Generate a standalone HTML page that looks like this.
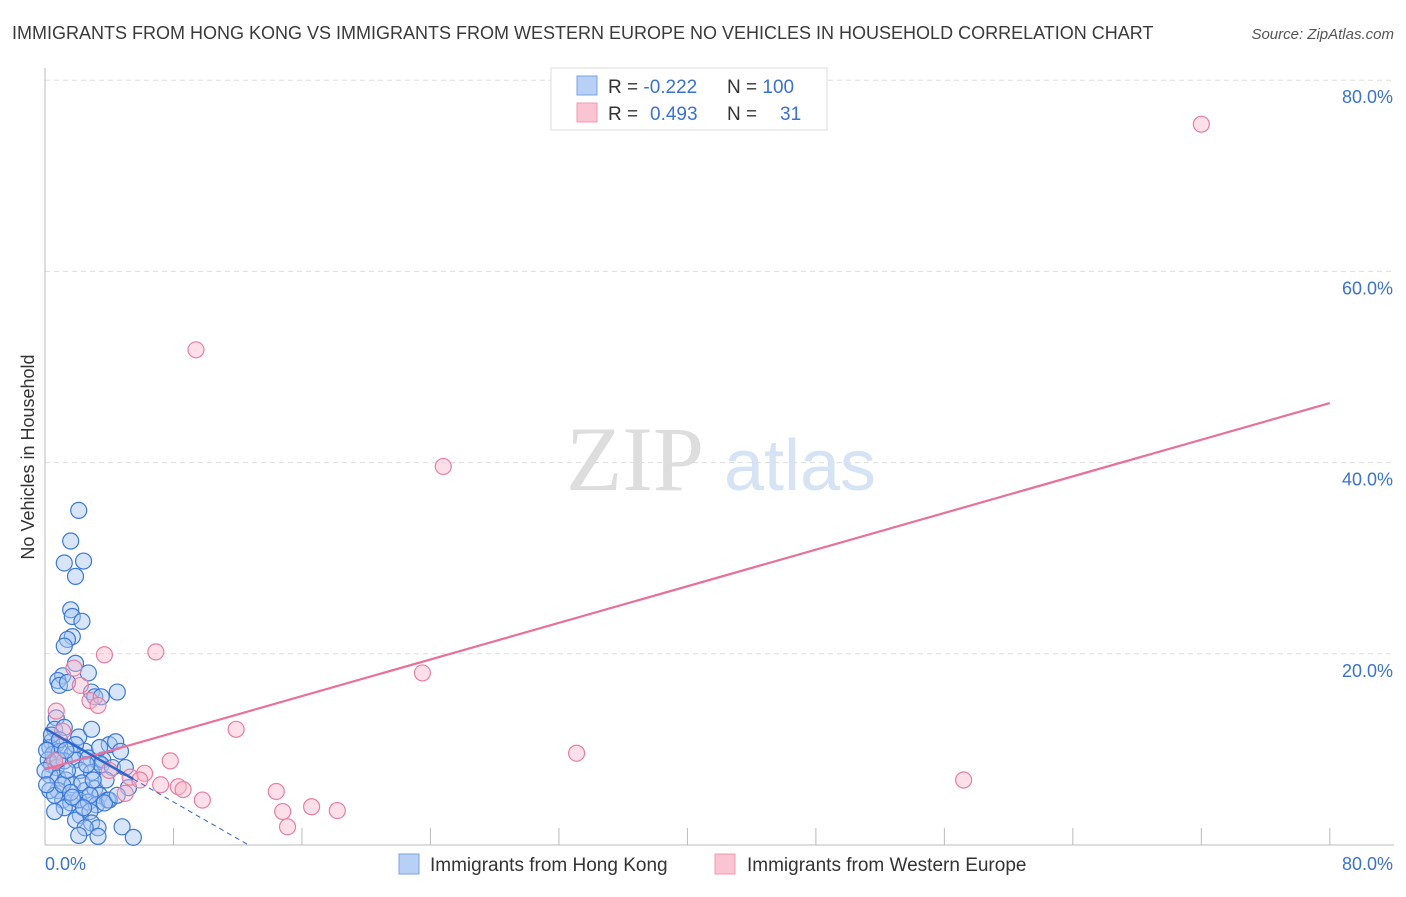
<!DOCTYPE html>
<html><head><meta charset="utf-8"><style>
body{margin:0;background:#fff;font-family:"Liberation Sans",sans-serif;}
</style></head><body>
<svg width="1406" height="892" xmlns="http://www.w3.org/2000/svg" font-family="Liberation Sans, sans-serif">
<text x="12" y="39" font-size="18" fill="#3a3a3a">IMMIGRANTS FROM HONG KONG VS IMMIGRANTS FROM WESTERN EUROPE NO VEHICLES IN HOUSEHOLD CORRELATION CHART</text>
<text x="1394" y="39" font-size="15" fill="#555" font-style="italic" text-anchor="end">Source: ZipAtlas.com</text>
<g id="grid"></g>
<g><text x="635" y="490" font-size="92" fill="#ddd" font-family="Liberation Serif, serif" text-anchor="middle">ZIP</text><text x="800" y="490" font-size="72" fill="#d5e3f5" text-anchor="middle">atlas</text></g>
<g id="pts"></g>
<g id="lines"></g>
<text transform="translate(34,457) rotate(-90)" font-size="18" fill="#333" text-anchor="middle">No Vehicles in Household</text>
<text x="45" y="870" font-size="18" fill="#3a72d0">0.0%</text>
<text x="1393" y="870" font-size="18" fill="#3a72d0" text-anchor="end">80.0%</text>
<g>
<rect x="551" y="68" width="276" height="62" fill="#fff" stroke="#ddd"/>
<rect x="577" y="76" width="20" height="19" fill="#b8d0f5" stroke="#7aa3e5"/>
<rect x="577" y="103" width="20" height="19" fill="#fac4d3" stroke="#f09ab2"/>
<text x="608" y="93" font-size="19" fill="#333">R = <tspan fill="#3a72d0">-0.222</tspan></text>
<text x="727" y="93" font-size="19" fill="#333">N = <tspan fill="#3a72d0">100</tspan></text>
<text x="608" y="120" font-size="19" fill="#333">R = <tspan fill="#3a72d0" x="650">0.493</tspan></text>
<text x="727" y="120" font-size="19" fill="#333">N = <tspan fill="#3a72d0" x="780">31</tspan></text>
</g>
<g>
<rect x="399" y="854" width="20" height="20" fill="#b8d0f5" stroke="#7aa3e5"/>
<text x="430" y="871" font-size="19" fill="#333">Immigrants from Hong Kong</text>
<rect x="715" y="854" width="20" height="20" fill="#fac4d3" stroke="#f09ab2"/>
<text x="747" y="871" font-size="19" fill="#333">Immigrants from Western Europe</text>
</g>
</svg>
<script>
const blueX=[2.1,1.6,1.2,2.4,1.9,1.6,1.7,2.3,1.7,1.4,1.2,1.9,2.7,1.1,0.8,0.9,1.4,2.9,3.1,3.5,4.5,0.7,0.6,1.2,0.4,0.7,2.1,2.9,0.3,0.5,0.9,1.7,2.5,4.0,4.4,4.7,0.2,0.4,0.7,1.2,1.9,2.7,3.3,3.6,0.3,0.8,1.3,2.2,2.9,3.5,4.2,5.0,0.8,1.7,2.5,3.1,3.4,3.9,5.2,1.1,1.6,2.1,2.7,3.2,4.0,1.2,2.2,2.8,1.9,2.9,3.3,2.5,2.1,3.3,4.8,5.5,0.3,0.6,1.1,1.4,2.3,0.0,0.1,0.4,0.9,1.9,2.6,1.6,3.7,4.5,2.8,0.8,1.3,3.8,3.4,0.1,0.6,1.7,2.4,3.0];
const blueY=[35.0,31.8,29.5,29.7,28.1,24.6,23.9,23.4,21.8,21.5,20.8,19.0,18.0,17.7,17.2,16.7,17.0,16.0,15.5,15.5,16.0,13.3,12.1,12.3,10.8,10.5,11.3,12.1,10.2,9.5,9.8,9.5,9.8,10.5,10.8,9.8,8.9,8.4,8.1,8.8,8.9,9.1,8.7,8.9,7.3,7.0,6.8,7.8,7.6,8.4,8.1,8.1,5.7,6.3,5.7,5.9,5.2,4.7,6.0,4.7,4.4,4.7,4.5,4.2,4.7,3.9,3.1,3.5,2.6,2.3,1.8,1.8,1.0,0.9,1.9,0.8,5.7,5.2,6.3,7.8,6.5,7.8,9.9,11.5,11.0,10.5,8.4,5.5,4.4,5.2,5.2,8.9,9.9,6.8,10.2,6.3,3.5,5.0,3.9,6.8];
const pinkX=[72.0,9.4,24.8,23.5,3.7,6.9,1.8,2.2,2.8,3.3,11.9,33.1,57.2,0.7,1.1,0.6,7.8,6.2,5.3,4.0,5.9,7.2,8.3,8.6,5.0,9.8,14.4,14.8,16.6,18.2,15.1];
const pinkY=[75.4,51.8,39.6,18.0,19.9,20.2,18.5,16.7,15.1,14.6,12.1,9.6,6.8,14.0,11.9,8.8,8.8,7.5,7.1,7.8,6.8,6.3,6.1,5.8,5.4,4.7,5.6,3.5,4.0,3.6,1.9];
const yTicks=[20,40,60,80];
const yTickLabels=["20.0%","40.0%","60.0%","80.0%"];
const xTicks=[8,16,24,32,40,48,56,64,72,80];
const X=v=>45+v*16.06, Y=v=>845-v*9.56;
const NS="http://www.w3.org/2000/svg";
function mk(tag,attrs,parent){const e=document.createElementNS(NS,tag);for(const k in attrs)e.setAttribute(k,attrs[k]);parent.appendChild(e);return e;}
const grid=document.getElementById('grid');
yTicks.forEach((t,i)=>{
 const l=mk('line',{x1:45,x2:1394,y1:Y(t),y2:Y(t),stroke:'#ddd','stroke-dasharray':'5,4'},grid);
 
 
 const tx=mk('text',{x:1393,y:Y(t)+23,'font-size':18,fill:'#3a72d0','text-anchor':'end'},grid);
 tx.textContent=yTickLabels[i];
 
 
});
const ax=mk('line',{x1:45,x2:45,y1:68,y2:845,stroke:'#bbb'},grid);


const bx=mk('line',{x1:45,x2:1394,y1:845,y2:845,stroke:'#bbb'},grid);


xTicks.forEach(t=>{
 const l=mk('line',{x1:X(t),x2:X(t),y1:828,y2:845,stroke:'#bbb'},grid);
 
 
});
const pts=document.getElementById('pts');
function scatter(xs,ys,fill,stroke,name){xs.forEach((x,i)=>{
 const c=mk('circle',{cx:X(x),cy:Y(ys[i]),r:8,fill:fill,'fill-opacity':0.45,stroke:stroke,'stroke-width':1.2},pts);
 
 
});}
scatter(blueX,blueY,'#a9c6f2','#3a78d8','point-hong-kong');
scatter(pinkX,pinkY,'#f8b8cb','#e87fa0','point-western-europe');
function reg(xs,ys){const n=xs.length;let mx=0,my=0;xs.forEach((x,i)=>{mx+=x;my+=ys[i]});mx/=n;my/=n;let sxy=0,sxx=0;xs.forEach((x,i)=>{sxy+=(x-mx)*(ys[i]-my);sxx+=(x-mx)**2});const b=sxy/sxx;return [my-b*mx,b];}
const lines=document.getElementById('lines');
const [pa,pb]=reg(pinkX,pinkY);
const pl=mk('line',{x1:X(0),y1:Y(pa),x2:X(80),y2:Y(pa+pb*80),stroke:'#e8709a','stroke-width':2.2},lines);


const [ba,bb]=reg(blueX,blueY);
const xEnd=Math.max(...blueX);
const bl=mk('line',{x1:X(0),y1:Y(ba),x2:X(xEnd),y2:Y(ba+bb*xEnd),stroke:'#2a66cc','stroke-width':2.5},lines);


const xz=bb<0?-ba/bb:xEnd;
const bd=mk('line',{x1:X(xEnd),y1:Y(ba+bb*xEnd),x2:X(xz),y2:Y(0),stroke:'#2a66cc','stroke-width':1,'stroke-dasharray':'5,4'},lines);


</script>
</body></html>
